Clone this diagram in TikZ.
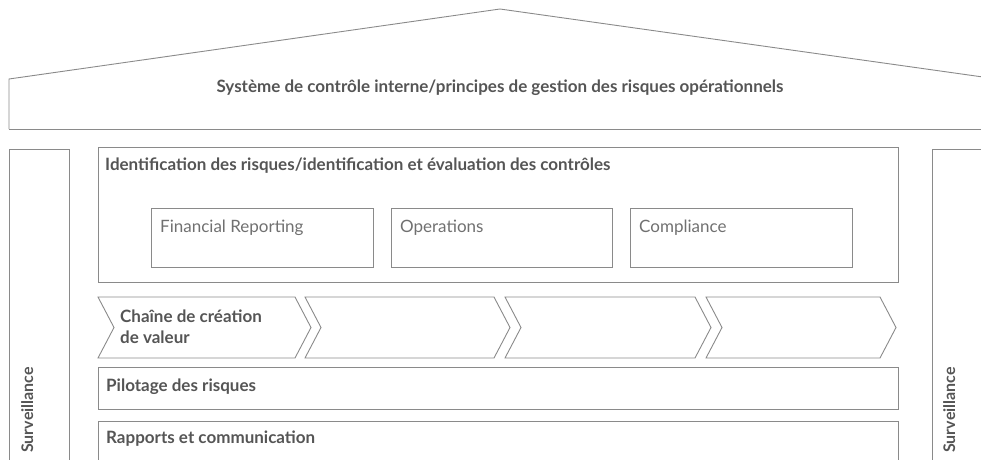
\documentclass[tikz,border=0pt]{standalone}
\usepackage{fontspec}
\setmainfont{Lato}
\definecolor{linegray}{HTML}{8A8A8A}
\definecolor{textgray}{HTML}{555555}
\definecolor{lighttext}{HTML}{707070}
\begin{document}
\begin{tikzpicture}[x=1pt,y=-1pt,
  frame/.style={draw=linegray,line width=0.9pt},
  heading/.style={anchor=base west,inner sep=0pt,text=textgray,font=\bfseries\fontsize{17}{20}\selectfont},
  subtext/.style={anchor=base west,inner sep=0pt,text=lighttext,font=\fontsize{17}{20}\selectfont},
  pillartext/.style={anchor=base west,inner sep=0pt,rotate=90,text=textgray,font=\bfseries\fontsize{16}{19}\selectfont}]
\useasboundingbox (0,0) rectangle (981,459);
\begin{scope}
\clip (0,0) rectangle (981,459);

% roof
\draw[frame] (9,129) -- (9,79) -- (500,9) -- (990,78);
\draw[frame] (9,129) -- (990,129);
\node[anchor=base,inner sep=0pt,text=textgray,font=\bfseries\fontsize{17}{20}\selectfont] (roof) at (500,92) {Système de contrôle interne/principes de gestion des risques opérationnels};

% pillars
\draw[frame] (9,470) -- (9,149) -- (69,149) -- (69,470);
\draw[frame] (932,470) -- (932,149) -- (990,149);
\node[pillartext] (survL) at (33,453) {Surveillance};
\node[pillartext] (survR) at (955,453) {Surveillance};

% identification block
\draw[frame] (98,147) rectangle (898,282);
\node[heading] (ident) at (105,170) {Identification des risques/identification et évaluation des contrôles};
\draw[frame] (151,208) rectangle (373,267);
\draw[frame] (391,208) rectangle (612,267);
\draw[frame] (630,208) rectangle (852,267);
\node[subtext] (fin) at (160,232) {Financial Reporting};
\node[subtext] (ops) at (400,232) {Operations};
\node[subtext] (comp) at (639,232) {Compliance};

% value chain chevrons
\draw[frame] (98,297) -- (295,297) -- (311,327.5) -- (295,358) -- (98,358) -- (114,327.5) -- cycle;
\draw[frame] (305,297) -- (494,297) -- (510,327.5) -- (494,358) -- (305,358) -- (321,327.5) -- cycle;
\draw[frame] (505,297) -- (695,297) -- (711,327.5) -- (695,358) -- (505,358) -- (521,327.5) -- cycle;
\draw[frame] (706,297) -- (880,297) -- (896,327.5) -- (880,358) -- (706,358) -- (722,327.5) -- cycle;
\node[heading] (chain1) at (120,322) {Chaîne de création};
\node[heading] (chain2) at (120,343) {de valeur};

% risk steering and reporting
\draw[frame] (98,367) rectangle (898,409);
\node[heading] (pilot) at (106,391) {Pilotage des risques};
\draw[frame] (98,470) -- (98,421) -- (898,421) -- (898,470);
\node[heading] (report) at (106,443) {Rapports et communication};
\end{scope}
\end{tikzpicture}
\end{document}
